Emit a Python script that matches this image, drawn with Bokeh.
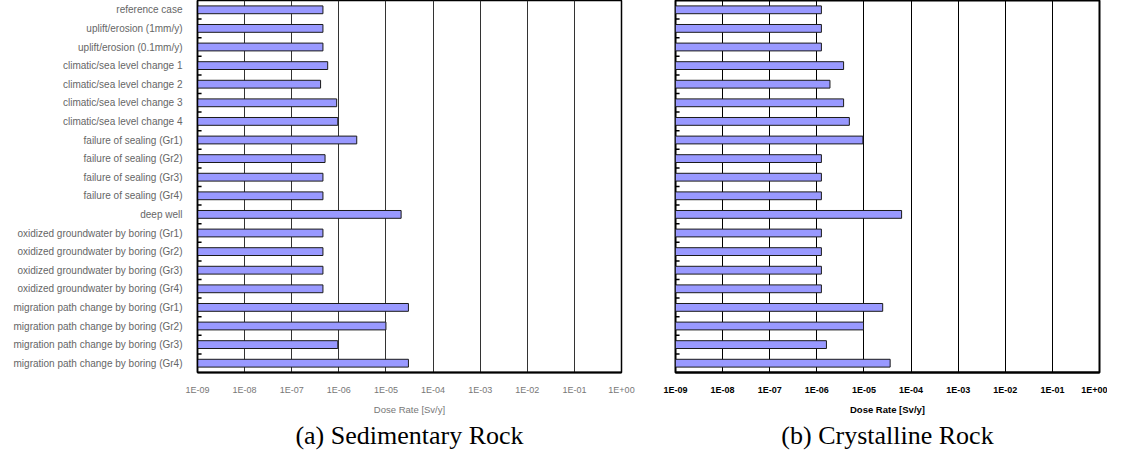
from bokeh.plotting import figure
from bokeh.models import FactorRange, Range1d, FixedTicker, CustomJSTickFormatter, Title
from bokeh.layouts import row
from bokeh.embed import file_html
from bokeh.resources import INLINE

categories = [
    "reference case",
    "uplift/erosion (1mm/y)",
    "uplift/erosion (0.1mm/y)",
    "climatic/sea level change 1",
    "climatic/sea level change 2",
    "climatic/sea level change 3",
    "climatic/sea level change 4",
    "failure of sealing (Gr1)",
    "failure of sealing (Gr2)",
    "failure of sealing (Gr3)",
    "failure of sealing (Gr4)",
    "deep well",
    "oxidized groundwater by boring (Gr1)",
    "oxidized groundwater by boring (Gr2)",
    "oxidized groundwater by boring (Gr3)",
    "oxidized groundwater by boring (Gr4)",
    "migration path change by boring (Gr1)",
    "migration path change by boring (Gr2)",
    "migration path change by boring (Gr3)",
    "migration path change by boring (Gr4)",
]

sedimentary = [4.6e-7, 4.6e-7, 4.6e-7, 5.8e-7, 4.1e-7, 9.0e-7, 9.5e-7, 2.4e-6, 5.1e-7, 4.6e-7,
               4.6e-7, 2.1e-5, 4.6e-7, 4.6e-7, 4.6e-7, 4.6e-7, 3.0e-5, 1.0e-5, 9.5e-7, 3.0e-5]

crystalline = [1.25e-6, 1.25e-6, 1.25e-6, 3.7e-6, 1.9e-6, 3.7e-6, 4.9e-6, 9.5e-6, 1.25e-6, 1.25e-6,
               1.25e-6, 6.3e-5, 1.25e-6, 1.25e-6, 1.25e-6, 1.25e-6, 2.5e-5, 9.8e-6, 1.6e-6, 3.6e-5]

tick_values = [1e-9, 1e-8, 1e-7, 1e-6, 1e-5, 1e-4, 1e-3, 1e-2, 1e-1, 1.0]
tick_labels = ["1E-09", "1E-08", "1E-07", "1E-06", "1E-05", "1E-04", "1E-03", "1E-02", "1E-01", "1E+00"]

x_title = "Dose Rate [Sv/y]"
captions = ["(a) Sedimentary Rock", "(b) Crystalline Rock"]


def make_plot(values, caption, show_cats, bold, min_left, min_right, caption_offset, outline_w):
    p = figure(
        y_range=FactorRange(factors=list(reversed(categories))),
        x_axis_type="log",
        x_range=Range1d(tick_values[0], tick_values[-1]),
        frame_width=424, frame_height=372,
        min_border_left=min_left, min_border_right=min_right,
        min_border_top=0, min_border_bottom=0,
        output_backend="svg", toolbar_location=None,
    )
    p.hbar(y=categories, left=tick_values[0], right=values, height=0.42,
           fill_color="#9999FF", line_color="#1a1a1a", line_width=1)

    # small category-boundary ticks on the inside of the left axis
    bounds = [(c, -0.5) for c in categories[:-1]]
    p.segment(x0=[tick_values[0]] * len(bounds), x1=[tick_values[0] * 1.22] * len(bounds),
              y0=bounds, y1=bounds, line_color="black", line_width=1.5)

    p.xgrid.ticker = FixedTicker(ticks=tick_values)
    p.xgrid.grid_line_color = "black" if bold else "#333333"
    p.xgrid.grid_line_width = 1
    p.ygrid.grid_line_color = None
    p.outline_line_color = "black"
    p.outline_line_width = outline_w
    p.background_fill_color = "white"
    p.border_fill_color = "white"

    xa = p.xaxis[0]
    xa.ticker = FixedTicker(ticks=tick_values)
    xa.formatter = CustomJSTickFormatter(
        args=dict(labels=tick_labels),
        code="return labels[Math.round(Math.log10(tick)) + 9];")
    xa.major_tick_in = 0
    xa.major_tick_out = 0
    xa.minor_tick_line_color = None
    xa.axis_line_color = "black"
    xa.axis_line_width = 2
    xa.major_label_standoff = 12
    xa.major_label_text_font = "Liberation Sans"
    xa.major_label_text_font_size = "9px"
    xa.axis_label = x_title
    xa.axis_label_text_font = "Liberation Sans"
    xa.axis_label_text_font_size = "9.5px"
    xa.axis_label_standoff = 6
    if bold:
        xa.major_label_text_color = "black"
        xa.major_label_text_font_style = "bold"
        xa.axis_label_text_color = "black"
        xa.axis_label_text_font_style = "bold"
    else:
        xa.major_label_text_color = "#777777"
        xa.axis_label_text_color = "#777777"
        xa.axis_label_text_font_style = "normal"

    ya = p.yaxis[0]
    if show_cats:
        ya.major_tick_line_color = None
        ya.minor_tick_line_color = None
        ya.axis_line_color = "black"
        ya.axis_line_width = 1.5
        ya.major_label_standoff = 9
        ya.major_label_text_font = "Liberation Sans"
        ya.major_label_text_font_size = "10px"
        ya.major_label_text_color = "#666666"
    else:
        ya.visible = False

    p.add_layout(Title(text=caption, align="center", offset=caption_offset,
                       text_font="Liberation Serif", text_font_size="26px",
                       text_font_style="normal", text_color="black", standoff=2), "below")
    return p


p1 = make_plot(sedimentary, captions[0], True, False, 197, 34, -24, 1.5)
p2 = make_plot(crystalline, captions[1], False, True, 20, 8, -7, 2)

layout = row(p1, p2)
open("out.html", "w").write(file_html(layout, INLINE))
